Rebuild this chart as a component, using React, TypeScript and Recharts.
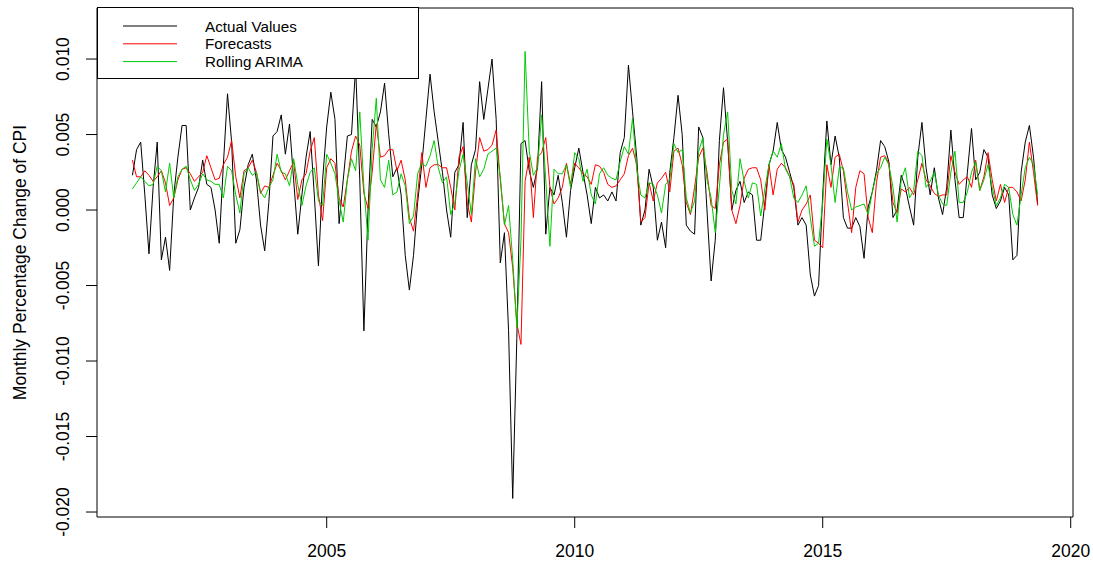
import React from 'react';
import { LineChart, Line, XAxis, YAxis, ReferenceArea } from 'recharts';

// monthly series, Feb 2001 .. May 2019
const startYear = 2001;
const startMonth = 2;

const actualValues = [
  0.0023, 0.0040, 0.0045, 0.0010, -0.0029, 0.0015, 0.0045, -0.0033, -0.0018, -0.0040, 0.0010, 0.0035,
  0.0056, 0.0056, 0.0000, 0.0008, 0.0015, 0.0033, 0.0017, 0.0015, 0.0000, -0.0022, 0.0030, 0.0077,
  0.0045, -0.0022, -0.0013, 0.0015, 0.0030, 0.0037, 0.0020, -0.0010, -0.0027, 0.0005, 0.0049, 0.0052,
  0.0063, 0.0037, 0.0057, 0.0020, -0.0016, 0.0010, 0.0035, 0.0052, 0.0010, -0.0037, 0.0020, 0.0055,
  0.0078, 0.0060, -0.0009, 0.0020, 0.0049, 0.0050, 0.0095, 0.0020, -0.0080, 0.0000, 0.0060, 0.0055,
  0.0065, 0.0084, 0.0050, 0.0022, 0.0028, 0.0010, -0.0030, -0.0053, -0.0030, 0.0005, 0.0030, 0.0060,
  0.0090, 0.0065, 0.0045, 0.0025, 0.0000, -0.0018, 0.0025, 0.0030, 0.0058, -0.0005, 0.0030, 0.0040,
  0.0085, 0.0060, 0.0080, 0.0100, 0.0060, -0.0035, -0.0015, -0.0080, -0.0191, -0.0085, 0.0044, 0.0046,
  0.0026, 0.0015, 0.0028, 0.0085, -0.0016, 0.0015, 0.0010, 0.0023, 0.0005, -0.0018, 0.0013, 0.0028,
  0.0041, 0.0025, 0.0010, -0.0009, 0.0015, 0.0008, 0.0010, 0.0006, 0.0012, 0.0006, 0.0038, 0.0048,
  0.0096, 0.0065, 0.0035, -0.0010, 0.0000, 0.0027, 0.0015, -0.0020, -0.0008, -0.0025, 0.0025, 0.0048,
  0.0076, 0.0050, -0.0010, -0.0014, -0.0016, 0.0055, 0.0048, 0.0000, -0.0047, -0.0020, 0.0046, 0.0081,
  0.0045, 0.0000, 0.0013, 0.0019, 0.0005, 0.0012, 0.0010, -0.0020, -0.0020, 0.0005, 0.0030, 0.0039,
  0.0058, 0.0040, 0.0035, 0.0025, 0.0015, -0.0010, -0.0005, -0.0010, -0.0043, -0.0057, -0.0050, 0.0010,
  0.0059, 0.0030, 0.0049, 0.0035, -0.0005, -0.0012, -0.0012, -0.0005, -0.0011, -0.0032, 0.0002, 0.0012,
  0.0026, 0.0046, 0.0042, 0.0032, -0.0005, 0.0000, 0.0023, 0.0015, 0.0002, -0.0010, 0.0035, 0.0058,
  0.0028, 0.0010, 0.0028, 0.0008, -0.0003, 0.0015, 0.0053, 0.0020, -0.0005, -0.0005, 0.0025, 0.0054,
  0.0020, 0.0025, 0.0040, 0.0035, 0.0010, 0.0001, 0.0006, 0.0015, 0.0010, -0.0033, -0.0030, 0.0025,
  0.0045, 0.0056, 0.0035, 0.0004,
];

const forecastValues = [
  0.0033, 0.0022, 0.0022, 0.0026, 0.0023, 0.0019, 0.0022, 0.0026, 0.0018, 0.0003, 0.0008, 0.0020,
  0.0027, 0.0028, 0.0024, 0.0019, 0.0022, 0.0025, 0.0036, 0.0028, 0.0020, 0.0021, 0.0030, 0.0035,
  0.0046, 0.0022, 0.0008, 0.0026, 0.0028, 0.0033, 0.0025, 0.0011, 0.0016, 0.0015, 0.0023, 0.0031,
  0.0026, 0.0020, 0.0026, 0.0032, 0.0007, 0.0020, 0.0024, 0.0039, 0.0048, 0.0010, -0.0007, 0.0028,
  0.0034, 0.0031, 0.0008, 0.0002, 0.0020, 0.0039, 0.0049, 0.0043, 0.0011, 0.0001, 0.0025, 0.0057,
  0.0035, 0.0036, 0.0040, 0.0040, 0.0026, 0.0033, 0.0020, -0.0005, -0.0014, 0.0010, 0.0038, 0.0015,
  0.0028, 0.0030, 0.0030, 0.0028, 0.0028, 0.0015, 0.0000, 0.0035, 0.0042, 0.0005, -0.0008, 0.0025,
  0.0048, 0.0039, 0.0040, 0.0043, 0.0053, 0.0020, -0.0009, -0.0015, -0.0038, -0.0075, -0.0089, 0.0019,
  0.0035, -0.0005, 0.0035, 0.0038, 0.0048, 0.0015, 0.0004, 0.0008, 0.0015, 0.0031, 0.0017, 0.0031,
  0.0028, 0.0024, 0.0022, 0.0017, 0.0030, 0.0029, 0.0025, 0.0017, 0.0015, 0.0016, 0.0020, 0.0024,
  0.0036, 0.0041, 0.0030, -0.0008, -0.0005, 0.0018, 0.0006, 0.0018, 0.0021, 0.0025, 0.0012, 0.0039,
  0.0041, 0.0030, 0.0005, -0.0003, 0.0015, 0.0035, 0.0041, 0.0025, 0.0003, 0.0001, 0.0030, 0.0045,
  0.0047, 0.0000, -0.0009, 0.0003, 0.0021, 0.0027, 0.0028, 0.0028, 0.0020, 0.0000, 0.0030, 0.0010,
  0.0027, 0.0031, 0.0028, 0.0022, 0.0017, -0.0008, 0.0000, 0.0004, 0.0010, -0.0020, -0.0022, -0.0025,
  0.0030, 0.0015, 0.0035, 0.0037, 0.0026, 0.0005, -0.0015, 0.0015, 0.0026, 0.0024, -0.0005, -0.0015,
  0.0018, 0.0035, 0.0036, 0.0031, 0.0005, -0.0002, 0.0014, 0.0012, 0.0015, 0.0010, 0.0020, 0.0031,
  0.0020, 0.0016, 0.0011, 0.0009, 0.0010, 0.0010, 0.0036, 0.0025, 0.0017, 0.0020, 0.0022, 0.0015,
  0.0033, 0.0013, 0.0022, 0.0038, 0.0020, 0.0006, 0.0017, 0.0005, 0.0015, 0.0015, 0.0012, 0.0006,
  0.0020, 0.0045, 0.0025, 0.0003,
];

const rollingArima = [
  0.0014, 0.0018, 0.0022, 0.0019, 0.0016, 0.0017, 0.0029, 0.0026, 0.0012, 0.0031, 0.0008, 0.0022,
  0.0027, 0.0029, 0.0020, 0.0013, 0.0017, 0.0024, 0.0020, 0.0019, 0.0017, 0.0017, 0.0008, 0.0029,
  0.0026, 0.0010, -0.0002, 0.0024, 0.0028, 0.0023, 0.0025, 0.0012, 0.0008, 0.0015, 0.0020, 0.0037,
  0.0025, 0.0024, 0.0016, 0.0034, 0.0017, 0.0003, 0.0016, 0.0025, 0.0028, 0.0006, 0.0003, 0.0037,
  0.0031, 0.0024, 0.0006, -0.0008, 0.0020, 0.0034, 0.0026, 0.0065, 0.0015, -0.0020, 0.0040, 0.0074,
  0.0020, 0.0015, 0.0033, 0.0010, 0.0012, 0.0024, 0.0016, -0.0009, -0.0004, 0.0024, 0.0031, 0.0029,
  0.0036, 0.0046, 0.0028, 0.0018, 0.0022, -0.0003, 0.0005, 0.0026, 0.0037, 0.0018, -0.0003, 0.0034,
  0.0022, 0.0027, 0.0037, 0.0039, 0.0041, 0.0022, -0.0010, 0.0003, -0.0033, -0.0078, -0.0020, 0.0105,
  0.0039, 0.0023, 0.0028, 0.0063, 0.0020, -0.0024, 0.0027, 0.0024, 0.0024, 0.0030, 0.0015, 0.0038,
  0.0034, 0.0019, 0.0027, 0.0010, 0.0004, 0.0024, 0.0028, 0.0023, 0.0021, 0.0020, 0.0032, 0.0042,
  0.0037, 0.0061, 0.0027, 0.0010, 0.0008, 0.0018, 0.0017, 0.0010, -0.0002, 0.0017, 0.0020, 0.0044,
  0.0038, 0.0040, 0.0008, -0.0002, 0.0006, 0.0039, 0.0048, 0.0020, 0.0008, -0.0015, 0.0015, 0.0050,
  0.0065, 0.0013, 0.0004, 0.0034, 0.0019, 0.0008, 0.0018, 0.0017, -0.0004, 0.0014, 0.0030, 0.0039,
  0.0035, 0.0044, 0.0027, 0.0022, 0.0008, 0.0005, 0.0010, 0.0016, -0.0005, -0.0024, -0.0022, 0.0005,
  0.0047, 0.0030, 0.0005, 0.0028, 0.0028, 0.0012, 0.0000, 0.0002, 0.0003, 0.0004, -0.0003, 0.0012,
  0.0024, 0.0028, 0.0035, 0.0030, 0.0015, -0.0008, 0.0020, 0.0028, 0.0008, 0.0013, 0.0039, 0.0036,
  0.0015, 0.0019, 0.0025, 0.0010, 0.0004, 0.0003, 0.0025, 0.0039, 0.0005, 0.0005, 0.0012, 0.0025,
  0.0032, 0.0013, 0.0020, 0.0030, 0.0015, 0.0003, 0.0008, 0.0017, 0.0015, -0.0003, -0.0010, 0.0010,
  0.0028, 0.0035, 0.0030, 0.0010,
];

const xTicks = [2005, 2010, 2015, 2020];
const yTicks = [-0.02, -0.015, -0.01, -0.005, 0, 0.005, 0.01];

const series = [
  { key: 'actual', name: 'Actual Values', color: '#000000' },
  { key: 'forecast', name: 'Forecasts', color: '#ff0000' },
  { key: 'arima', name: 'Rolling ARIMA', color: '#00cc00' },
];

const data = actualValues.map((v, i) => ({
  t: startYear + (startMonth - 1 + i) / 12,
  actual: v,
  forecast: forecastValues[i],
  arima: rollingArima[i],
}));

const X_DOMAIN: [number, number] = [2000.369, 2020.046];
const Y_DOMAIN: [number, number] = [-0.02033, 0.01338];
const FONT = '"Liberation Sans", Arial, sans-serif';

const YTick = (props: any) => {
  const { y, payload } = props;
  const bx = 69;
  return (
    <text
      x={bx}
      y={y}
      transform={`rotate(-90, ${bx}, ${y})`}
      textAnchor="middle"
      fontSize={17.5}
      fontFamily={FONT}
      fill="#000"
    >
      {Number(payload.value).toFixed(3)}
    </text>
  );
};

const YTitle = (props: any) => {
  const vb = props.viewBox || {};
  const cy = vb.height ? vb.y + vb.height / 2 : 262.5;
  const bx = 26;
  return (
    <text
      x={bx}
      y={cy}
      transform={`rotate(-90, ${bx}, ${cy})`}
      textAnchor="middle"
      fontSize={17.5}
      fontFamily={FONT}
      fill="#000"
    >
      Monthly Percentage Change of CPI
    </text>
  );
};

const LegendBox = () => (
  <svg
    width={323}
    height={73}
    style={{ position: 'absolute', left: 96.5, top: 7 }}
  >
    <rect x={0.5} y={0.5} width={321} height={71} fill="#fff" stroke="#000" strokeWidth={1} />
    {series.map((s, i) => {
      const cy = 19 + i * 17.8;
      return (
        <g key={s.key}>
          <line x1={26} x2={80} y1={cy} y2={cy} stroke={s.color} strokeWidth={1} />
          <text x={108} y={cy} dominantBaseline="central" fontSize={15.2} fontFamily={FONT} fill="#000">
            {s.name}
          </text>
        </g>
      );
    })}
  </svg>
);

export default function App() {
  return (
    <div style={{ position: 'absolute', left: 0, top: 0, width: 1093, height: 565, background: '#fff' }}>
      <LineChart
        width={1093}
        height={565}
        data={data}
        margin={{ top: 8, right: 20, bottom: 18, left: 37 }}
      >
        <XAxis
          dataKey="t"
          type="number"
          domain={X_DOMAIN}
          allowDataOverflow
          ticks={xTicks}
          axisLine={false}
          tickLine={{ stroke: '#000' }}
          tickSize={11}
          tickMargin={17}
          height={30}
          tick={{ fontSize: 17.5, fill: '#000', fontFamily: FONT }}
        />
        <YAxis
          type="number"
          domain={Y_DOMAIN}
          allowDataOverflow
          ticks={yTicks}
          axisLine={false}
          tickLine={{ stroke: '#000' }}
          tickSize={11}
          width={60}
          tick={<YTick />}
          label={<YTitle />}
        />
        <ReferenceArea
          x1={X_DOMAIN[0]}
          x2={X_DOMAIN[1]}
          y1={Y_DOMAIN[0]}
          y2={Y_DOMAIN[1]}
          fill="none"
          stroke="#000"
          strokeWidth={1}
          ifOverflow="visible"
        />
        {series.map((s) => (
          <Line
            key={s.key}
            type="linear"
            dataKey={s.key}
            name={s.name}
            stroke={s.color}
            strokeWidth={1}
            dot={false}
            activeDot={false}
            isAnimationActive={false}
          />
        ))}
      </LineChart>
      <LegendBox />
    </div>
  );
}
